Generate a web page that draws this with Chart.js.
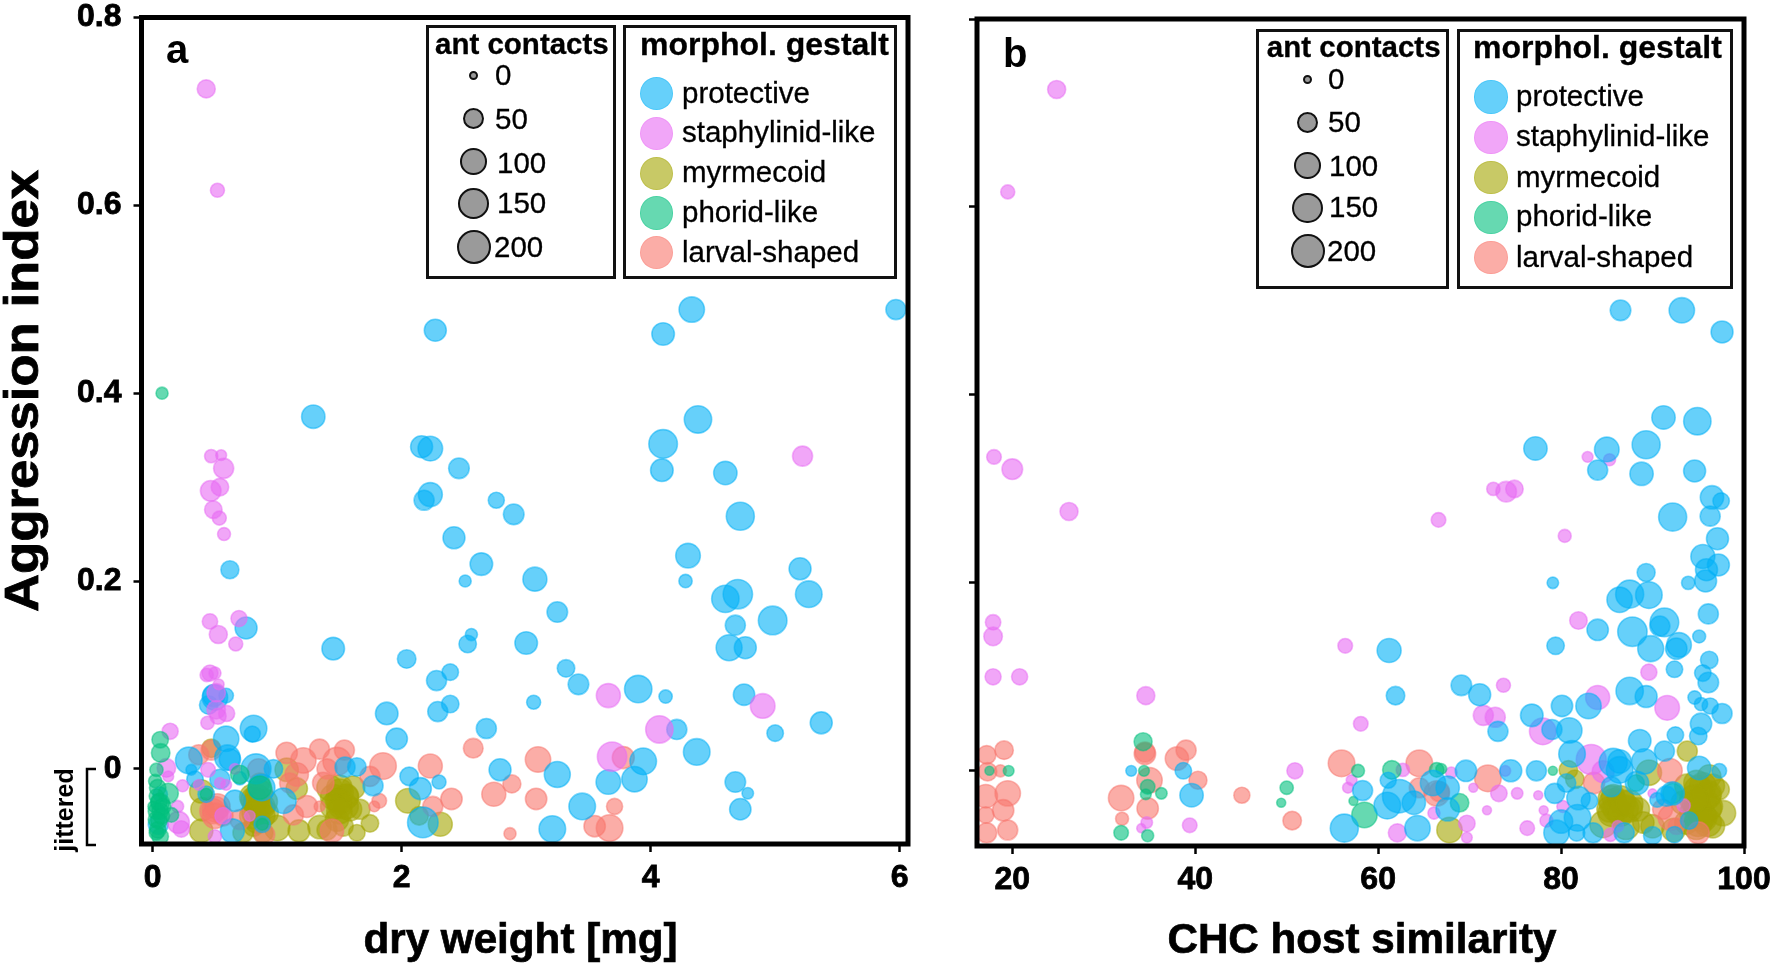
<!DOCTYPE html>
<html>
<head>
<meta charset="utf-8">
<title>Aggression index</title>
<script src="https://cdn.jsdelivr.net/npm/chart.js@4"></script>
<style>
  html, body { margin: 0; padding: 0; background: #fff; }
  body { position: relative; width: 1776px; height: 964px; overflow: hidden; font-family: "Liberation Sans", Arial, sans-serif; color: #000; }
  canvas { position: absolute; top: 0; }
  .box { position: absolute; box-sizing: border-box; border: 3px solid #111; background: #fff; }
  .txt { position: absolute; white-space: nowrap; transform: translateY(-50%); -webkit-text-stroke: 0.3px #000; }
  .dot { position: absolute; box-sizing: border-box; border-radius: 50%; }
</style>
</head>
<body>
<canvas id="panelA" width="930" height="964" style="left:0"></canvas>
<canvas id="panelB" width="846" height="964" style="left:930px"></canvas>

<script>
// every row: x, aggression index, ant contacts
var protectiveA = [[2.27,.467,54],[4.33,.489,86],[4.10,.463,59],[5.97,.489,39],[4.38,.372,108],[4.10,.346,123],[4.09,.318,59],[4.60,.315,66],[4.72,.269,116],[4.30,.227,78],[4.28,.200,6],[4.60,.181,108],[4.70,.186,133],[5.20,.213,54],[5.27,.186,99],[4.98,.158,123],[4.68,.153,39],[2.16,.343,54],[2.23,.341,78],[2.46,.320,43],[2.23,.292,72],[2.18,.286,39],[2.76,.286,16],[2.90,.271,43],[2.42,.246,54],[2.64,.218,59],[2.51,.200,3],[3.07,.202,72],[3.25,.167,43],[2.56,.143,3],[2.53,.133,23],[3.00,.134,59],[3.32,.107,23],[3.42,.090,43],[2.39,.103,18],[2.28,.094,39],[2.39,.069,23],[2.29,.061,39],[3.06,.071,8],[2.68,.043,39],[3.90,.085,108],[4.12,.077,6],[4.21,.042,39],[4.37,.018,99],[3.94,.008,99],[3.66,-.014,78],[3.87,-.011,86],[3.25,-.006,92],[2.79,-.001,54],[2.30,-.014,8],[3.45,-.040,99],[3.21,-.064,99],[4.75,.079,49],[5.00,.038,18],[5.37,.049,54],[4.68,-.014,43],[4.78,-.026,2],[4.72,-.043,49],[4.76,.129,54],[4.63,.129,92],[2.04,.117,29],[1.96,.032,49],[1.88,.059,59],[.81,.043,99],[.80,.037,16],[.59,.032,86],[.49,.078,54],[.59,.078,10],[.45,.068,29],[.50,.076,86],[.62,.010,49],[.60,.012,86],[.29,.009,99],[.31,-.001,1],[.34,-.011,18],[.54,-.011,39],[.70,-.01,6],[.83,0,141],[.97,0,29],[1.05,-.034,86],[.875,-.02,99],[.66,-.034,49],[.64,-.066,72],[.88,-.059,18],[.43,-.027,18],[1.77,-.018,39],[1.64,.002,29],[1.545,.002,39],[2.06,-.008,29],[2.15,-.021,54],[2.17,-.057,149],[.045,-.059,39],[.06,-.027,10],[1.45,.128,59],[.62,.212,26],[.75,.150,54],[1.29,.375,66]];

var staphylinidA = [[.43,.724,26],[.52,.616,8],[.47,.333,6],[.55,.334,1],[.57,.320,39],[.466,.296,43],[.54,.300,23],[.487,.276,23],[.535,.267,8],[.573,.250,5],[.46,.157,13],[.693,.160,16],[.527,.143,26],[.667,.133,8],[.46,.102,16],[.434,.100,6],[.50,.102,3],[.53,.09,1],[.51,.081,29],[.51,.063,29],[.594,.059,16],[.525,.056,16],[.44,.049,6],[.14,.040,16],[.11,.001,29],[.125,-.008,1],[.24,-.018,3],[.445,-.001,10],[.37,-.017,1],[.66,0,1],[.54,-.015,1],[.59,-.017,1],[.20,-.04,3],[.206,-.057,54],[.23,-.064,18],[.78,-.05,1],[.565,-.05,18],[.5,-.072,6],[3.66,.078,72],[4.07,.042,108],[4.90,.067,78],[3.69,.013,133],[5.22,.333,39]];

var myrmecoidA = [[.47,.022,29],[.39,-.024,66],[.40,-.043,66],[.39,-.066,66],[1.076,-.001,66],[1.157,-.021,49],[.82,-.036,66],[.86,-.025,86],[.86,-.04,86],[.81,-.047,66],[.915,-.047,66],[.81,-.033,86],[1.0,-.063,86],[1.175,-.066,54],[1.34,-.062,66],[1.745,-.058,23],[1.64,-.068,18],[1.42,-.02,86],[1.61,-.02,66],[1.505,-.025,99],[1.48,-.033,66],[1.56,-.029,66],[1.505,-.04,66],[1.585,-.043,66],[1.665,-.043,39],[1.48,-.054,66],[1.40,-.065,39],[1.53,-.061,39],[2.05,-.034,78],[2.14,-.05,29],[2.31,-.059,72],[.81,-.061,39],[.725,-.068,39],[.885,-.068,39],[.86,-.015,39],[.80,-.03,86],[.84,-.03,86],[.88,-.04,86],[.84,-.045,86],[.80,-.05,86],[.88,-.05,86],[.84,-.055,86],[.90,-.035,86],[1.50,-.02,86],[1.55,-.03,86],[1.45,-.03,86],[1.50,-.035,86],[1.55,-.04,86],[1.45,-.04,86],[1.50,-.045,86]];

var phoridA = [[.075,.40,3],[.06,.031,18],[.064,.017,29],[.03,-.001,6],[.02,-.013,6],[.03,-.029,10],[.06,-.036,29],[.005,-.04,1],[.06,-.045,18],[.03,-.054,18],[.03,-.068,10],[.06,-.072,18],[.15,-.049,10],[.125,-.026,39],[.70,-.006,29],[.43,-.027,3],[.86,-.02,66],[.88,-.059,3],[.04,-.02,18],[.05,-.035,18],[.03,-.045,18],[.05,-.055,18],[.04,-.065,18],[.07,-.05,18],[.08,-.04,18]];

var larvalA = [[.37,.015,39],[.47,.02,39],[1.076,.017,49],[1.21,.009,86],[1.34,.021,39],[1.54,.02,39],[1.48,.008,116],[1.85,.003,99],[1.40,0,39],[1.37,-.015,49],[1.745,-.008,39],[1.157,-.006,66],[1.10,-.015,39],[.85,-.001,54],[1.237,-.04,54],[1.82,-.034,10],[1.78,-.04,1],[1.13,-.049,39],[1.34,-.04,1],[.50,-.043,86],[.565,-.05,39],[.70,-.054,39],[.90,-.07,39],[1.44,-.066,66],[2.23,.003,72],[2.25,-.04,39],[2.575,.022,36],[3.095,.01,86],[2.885,-.016,26],[2.74,-.027,72],[3.08,-.032,49],[2.40,-.032,49],[3.71,-.04,16],[2.87,-.069,3],[3.55,-.061,49],[3.67,-.063,99],[3.78,.012,54],[.48,-.045,86],[.52,-.04,86],[.50,-.05,86]];

var protectiveB = [[61.2,.128,72],[61.9,.080,29],[33.0,0,1],[38.7,0,18],[39.6,-.026,66],[58.3,-.021,39],[61.1,-.010,16],[56.3,-.061,116],[61.0,-.037,99],[62.3,-.027,190],[63.9,-.034,66],[64.3,-.061,86],[66.0,-.013,86],[79.1,.200,2],[89.3,.211,26],[93.9,.200,6],[95.8,.202,54],[86.4,.182,86],[87.5,.188,116],[89.6,.187,99],[84.0,.150,49],[87.8,.148,133],[91.3,.158,123],[90.8,.154,39],[89.8,.130,92],[92.9,.134,78],[92.6,.130,49],[96.1,.167,39],[95.1,.143,5],[79.4,.133,23],[92.4,.108,18],[96.2,.118,23],[95.5,.104,18],[96.1,.094,43],[87.5,.085,108],[89.3,.079,54],[94.6,.078,6],[95.3,.071,6],[96.3,.069,16],[97.6,.061,39],[95.3,.050,49],[95.0,.037,23],[92.5,.038,18],[88.6,.032,59],[91.3,.021,39],[83.0,.069,86],[80.1,.069,49],[76.8,.059,59],[73.1,.042,39],[69.1,.091,43],[71.1,.081,54],[80.9,.043,86],[79.0,.044,39],[81.2,.018,99],[69.6,0,49],[74.5,0,54],[77.3,0,39],[79.3,-.024,39],[80.6,-.013,29],[81.9,-.029,66],[81.8,-.050,99],[83.1,-.032,18],[80,-.054,66],[79.5,-.066,86],[81.7,-.066,18],[83.5,-.066,39],[85.7,.009,116],[86.4,.010,66],[86.4,.001,99],[85.5,-.017,39],[88.3,-.013,66],[89.1,.010,86],[86.9,-.066,39],[90,-.069,26],[92.4,-.068,18],[94,-.053,23],[97.3,0,10],[95.1,.003,66],[90.5,-.031,10],[92.2,-.024,66],[91.5,-.027,39],[67.6,-.018,66],[67.6,-.041,66],[86.5,.490,43],[93.2,.490,86],[97.6,.467,54],[91.2,.376,66],[94.9,.372,108],[77.2,.343,66],[85.0,.342,78],[84.0,.320,39],[89.3,.347,116],[88.8,.316,66],[94.6,.319,54],[92.2,.270,116],[96.5,.291,66],[97.5,.287,18],[96.3,.271,39],[97.1,.247,54],[95.5,.228,72],[97.2,.219,54],[95.9,.214,54]];

var staphylinidB = [[24.85,.725,26],[19.5,.616,8],[18.0,.334,10],[20.0,.321,43],[26.2,.276,26],[66.6,.267,10],[17.9,.158,13],[17.9,.143,29],[17.9,.100,16],[20.8,.100,16],[34.6,.080,26],[56.4,.133,10],[58.1,.050,10],[50.9,0,16],[57.1,-.010,1],[56.7,-.018,1],[62.7,.001,6],[66.1,-.045,3],[62.1,-.066,26],[39.4,-.058,10],[34.7,-.055,2],[34.1,-.061,0],[82.9,.334,1],[85.3,.331,3],[72.6,.300,6],[74.0,.297,43],[74.9,.300,23],[80.4,.250,5],[81.9,.160,23],[89.6,.105,16],[73.7,.091,8],[71.5,.059,39],[72.8,.057,39],[78.0,.042,99],[84.0,.078,72],[91.6,.067,78],[83.3,.012,141],[84.6,-.001,54],[68,-.002,2],[70.4,-.018,0],[73.2,-.024,18],[75.2,-.024,2],[77.5,-.026,0],[71.9,-.042,0],[78.1,-.042,0],[78.4,-.053,5],[76.3,-.061,10],[69.7,-.056,18],[69.7,-.071,1],[80.2,-.038,3],[85.4,-.068,6],[86.2,-.059,2],[93.4,-.037,6],[90.0,-.024,0],[73.9,0,1]];

var myrmecoidB = [[93.8,.021,39],[80.8,.001,29],[81.5,-.009,29],[89.6,-.002,86],[67.8,-.063,86],[97.7,-.045,86],[85.7,-.034,116],[86.8,-.034,86],[85.3,-.041,86],[87.5,-.041,86],[88.4,-.041,66],[84.6,-.057,99],[87.1,-.059,99],[89,-.055,49],[90,-.059,66],[85.7,-.027,66],[95.5,-.016,99],[96.6,-.016,66],[94.8,-.013,86],[95.9,-.027,116],[94.8,-.034,116],[96.2,-.038,99],[95.5,-.048,99],[94.8,-.059,99],[96.6,-.059,66],[96.2,-.006,66],[93.7,-.016,66],[93.3,-.034,66],[93.7,-.055,66],[92.3,-.063,66],[97.3,-.020,39],[95,-.02,116],[95.5,-.03,116],[96,-.04,116],[95,-.04,116],[95.5,-.05,116],[94.5,-.045,116],[96,-.025,116],[95,-.055,116],[96,-.055,116],[94.5,-.03,116],[85.5,-.03,99],[86.5,-.03,99],[86,-.04,99],[87,-.04,99],[85.5,-.045,99],[86.5,-.045,99],[87.5,-.035,99]];

var phoridB = [[61.5,.001,29],[57.8,0,5],[57.3,-.032,0],[58.5,-.047,86],[66.4,.001,10],[34.3,.031,26],[34.4,0,1],[34.8,-.017,10],[34.6,-.025,1],[36.3,-.024,2],[31.9,-.066,10],[34.8,-.069,3],[50.0,-.018,6],[49.4,-.034,0],[19.6,0,1],[17.5,0,0],[79.1,0,0],[68.9,-.034,29],[66.9,.002,1],[88.2,-.013,18],[92.2,-.024,39]];

var larvalB = [[17.2,.017,29],[19.1,.022,29],[17.3,-.001,29],[18.7,0,3],[19.5,-.024,86],[17.1,-.027,66],[19,-.042,49],[17.1,-.047,18],[19.5,-.063,39],[17.2,-.066,39],[34.5,.018,49],[34.5,.020,39],[38,.013,66],[39,.022,39],[40.3,-.010,26],[35,-.010,86],[31.9,-.029,86],[34.8,-.040,49],[32,-.051,5],[45.1,-.026,16],[50.6,-.053,29],[56,.008,99],[64.5,.008,99],[64.5,-.018,39],[66.4,-.024,86],[72,-.008,99],[83.6,-.013,49],[91.9,0,78],[92,-.050,86],[91.1,-.041,39],[95,-.066,54],[92.6,-.059,18],[66.7,-.022,39]];

var seriesNames = ['protective', 'staphylinid-like', 'myrmecoid', 'phorid-like', 'larval-shaped'];
var seriesColors = ['0,176,246', '231,107,243', '163,165,0', '0,191,125', '248,118,109'];
var contactLevels = [0, 50, 100, 150, 200];

var xTicksA = [0, 2, 4, 6];
var xTicksB = [20, 40, 60, 80, 100];
var yTicks = [0, 0.2, 0.4, 0.6, 0.8];

function contactRadius(c) {
    return 4.5 + 12.5 * Math.sqrt(c / 200);
}

function toPoints(rows) {
    return rows.map(function (r) {
        return { x: r[0], y: r[1], r: contactRadius(r[2]) };
    });
}

function bubbleSet(i, rows, order) {
    return {
        label: seriesNames[i],
        data: toPoints(rows),
        backgroundColor: 'rgba(' + seriesColors[i] + ',0.6)',
        borderColor: 'rgba(' + seriesColors[i] + ',0.5)',
        borderWidth: 1.6,
        hoverRadius: 0,
        order: order
    };
}

// tick labels must not push the frame in
function noLabelPadding(scale) {
    scale.paddingTop = 0;
    scale.paddingBottom = 0;
    scale.paddingLeft = 0;
    scale.paddingRight = 0;
}

// black frame, panel letter and the hand placed side labels
var panelDecor = {
    id: 'panelDecor',
    afterDraw: function (chart, args, opts) {
        var ctx = chart.ctx, a = chart.chartArea;
        ctx.save();
        ctx.strokeStyle = '#000';
        ctx.lineWidth = 5;
        ctx.strokeRect(a.left, a.top, a.right - a.left, a.bottom - a.top);

        ctx.fillStyle = '#000';
        ctx.textAlign = 'left';
        ctx.textBaseline = 'alphabetic';
        ctx.font = 'bold 40px "Liberation Sans"';
        ctx.fillText(opts.letter, opts.letterX, opts.letterY);

        ctx.textAlign = 'center';
        ctx.font = 'bold 42.2px "Liberation Sans"';
        ctx.lineWidth = 0.7;
        ctx.fillText(opts.xTitle, opts.xTitleX, 953);
        ctx.strokeText(opts.xTitle, opts.xTitleX, 953);

        if (opts.yTitle) {
            ctx.save();
            ctx.translate(38, 391);
            ctx.rotate(-Math.PI / 2);
            ctx.font = 'bold 48px "Liberation Sans"';
            ctx.scale(442 / ctx.measureText(opts.yTitle).width, 1);
            ctx.lineWidth = 0.8;
            ctx.fillText(opts.yTitle, 0, 0);
            ctx.strokeText(opts.yTitle, 0, 0);
            ctx.restore();

            ctx.save();
            ctx.translate(73, 810);
            ctx.rotate(-Math.PI / 2);
            ctx.font = 'bold 25px "Liberation Sans"';
            ctx.fillText('jittered', 0, 0);
            ctx.restore();

            ctx.lineWidth = 2.5;
            ctx.beginPath();
            ctx.moveTo(96, 769);
            ctx.lineTo(87, 769);
            ctx.lineTo(87, 845);
            ctx.lineTo(96, 845);
            ctx.stroke();
        }
        ctx.restore();
    }
};

function makePanel(id, sets, cfg) {
    var tickFont = { family: '"Liberation Sans"', size: 32, weight: 'bold' };
    return new Chart(document.getElementById(id), {
        type: 'bubble',
        data: { datasets: sets },
        plugins: [panelDecor],
        options: {
            responsive: false,
            animation: false,
            events: [],
            layout: { padding: { left: 0, right: cfg.right, top: cfg.top, bottom: 0 } },
            plugins: {
                legend: { display: false },
                tooltip: { enabled: false },
                panelDecor: {
                    letter: cfg.letter, letterX: cfg.letterX, letterY: cfg.letterY,
                    yTitle: cfg.yTitle, xTitle: cfg.xTitle, xTitleX: cfg.xTitleX
                }
            },
            scales: {
                x: {
                    type: 'linear',
                    min: cfg.xMin,
                    max: cfg.xMax,
                    afterBuildTicks: function (scale) {
                        scale.ticks = cfg.xTicks.map(function (v) { return { value: v }; });
                    },
                    afterFit: function (scale) {
                        scale.height = cfg.xHeight;
                        noLabelPadding(scale);
                    },
                    border: { display: false },
                    grid: { drawOnChartArea: false, drawTicks: true, tickLength: 8, tickWidth: 2.5, tickColor: '#000' },
                    ticks: { color: '#000', font: tickFont, padding: 7, maxRotation: 0, autoSkip: false, textStrokeColor: '#000', textStrokeWidth: 0.8 }
                },
                y: {
                    type: 'linear',
                    min: -0.08,
                    max: 0.8,
                    afterBuildTicks: function (scale) {
                        scale.ticks = yTicks.map(function (v) { return { value: v }; });
                    },
                    afterFit: function (scale) {
                        scale.width = cfg.yWidth;
                        noLabelPadding(scale);
                    },
                    border: { display: false },
                    grid: { drawOnChartArea: false, drawTicks: true, tickLength: 8, tickWidth: 2.5, tickColor: '#000' },
                    ticks: {
                        color: '#000',
                        font: tickFont,
                        padding: 12,
                        autoSkip: false,
                        textStrokeColor: '#000',
                        textStrokeWidth: 0.8,
                        callback: function (v) {
                            if (!cfg.yLabels) return '';
                            return v === 0 ? '0' : v.toFixed(1);
                        }
                    }
                }
            }
        }
    });
}

makePanel('panelA', [
    bubbleSet(2, myrmecoidA, 5),
    bubbleSet(4, larvalA, 4),
    bubbleSet(0, protectiveA, 3),
    bubbleSet(1, staphylinidA, 2),
    bubbleSet(3, phoridA, 1)
], {
    letter: 'a', letterX: 166, letterY: 63,
    yTitle: 'Aggression index', yLabels: true,
    xTitle: 'dry weight [mg]', xTitleX: 520.5,
    xMin: -0.09, xMax: 6.067, xTicks: xTicksA,
    right: 22, top: 17.5, xHeight: 120, yWidth: 141.5
});

makePanel('panelB', [
    bubbleSet(2, myrmecoidB, 5),
    bubbleSet(4, larvalB, 4),
    bubbleSet(1, staphylinidB, 3),
    bubbleSet(3, phoridB, 2),
    bubbleSet(0, protectiveB, 1)
], {
    letter: 'b', letterX: 73, letterY: 67,
    yTitle: null, yLabels: false,
    xTitle: 'CHC host similarity', xTitleX: 432,
    xMin: 16.14, xMax: 100, xTicks: xTicksB,
    right: 32, top: 19, xHeight: 118, yWidth: 47
});

// legend boxes, plain html on top of the canvases
function addDiv(cls, css, text) {
    var d = document.createElement('div');
    d.className = cls;
    d.style.cssText = css;
    if (text !== undefined) d.textContent = text;
    document.body.appendChild(d);
}

function addLegends(L) {
    addDiv('box', 'left:' + L.antLeft + 'px;top:' + L.top + 'px;width:' + L.antW + 'px;height:' + L.h + 'px');
    addDiv('box', 'left:' + L.morLeft + 'px;top:' + L.top + 'px;width:' + L.morW + 'px;height:' + L.h + 'px');
    addDiv('txt', 'left:' + L.antTitleX + 'px;top:' + L.titleY + 'px;font:bold 29.5px "Liberation Sans"', 'ant contacts');
    addDiv('txt', 'left:' + L.morTitleX + 'px;top:' + L.titleY + 'px;font:bold 32px "Liberation Sans"', 'morphol. gestalt');
    contactLevels.forEach(function (c, i) {
        var r = contactRadius(c);
        addDiv('dot', 'left:' + (L.circleX - r) + 'px;top:' + (L.circleY[i] - r) + 'px;width:' + (2 * r) + 'px;height:' + (2 * r) + 'px;background:#9a9a9a;border:2px solid #111');
        addDiv('txt', 'left:' + L.levelX[i] + 'px;top:' + L.levelY[i] + 'px;font:29.5px "Liberation Sans"', String(c));
    });
    seriesNames.forEach(function (name, i) {
        addDiv('dot', 'left:' + (L.swatchX - 16.7) + 'px;top:' + (L.swatchY[i] - 16.7) + 'px;width:33.4px;height:33.4px;background:rgba(' + seriesColors[i] + ',0.6);border:1.5px solid rgba(' + seriesColors[i] + ',0.3)');
        addDiv('txt', 'left:' + L.labelX + 'px;top:' + (L.swatchY[i] - 1) + 'px;font:29.5px "Liberation Sans"', name);
    });
}

addLegends({
    antLeft: 426, antW: 190, morLeft: 623, morW: 274, top: 25, h: 254,
    antTitleX: 435, morTitleX: 640, titleY: 44,
    circleX: 473.5, circleY: [75.7, 118.7, 161.3, 203.7, 246.7],
    levelX: [495, 495, 497, 497, 494], levelY: [74.5, 118.5, 163, 203, 247],
    swatchX: 656.7, swatchY: [93.7, 133.3, 173.3, 213, 252.7], labelX: 682
});
addLegends({
    antLeft: 1255.7, antW: 193, morLeft: 1457.4, morW: 276, top: 28.5, h: 260,
    antTitleX: 1266.8, morTitleX: 1473, titleY: 47,
    circleX: 1307.7, circleY: [79.5, 122.5, 165.4, 208, 251],
    levelX: [1328, 1328, 1329, 1329, 1327], levelY: [79, 122, 166.3, 206.5, 251],
    swatchX: 1491, swatchY: [97, 137.2, 177.5, 217.4, 257.7], labelX: 1516
});
</script>
</body>
</html>
